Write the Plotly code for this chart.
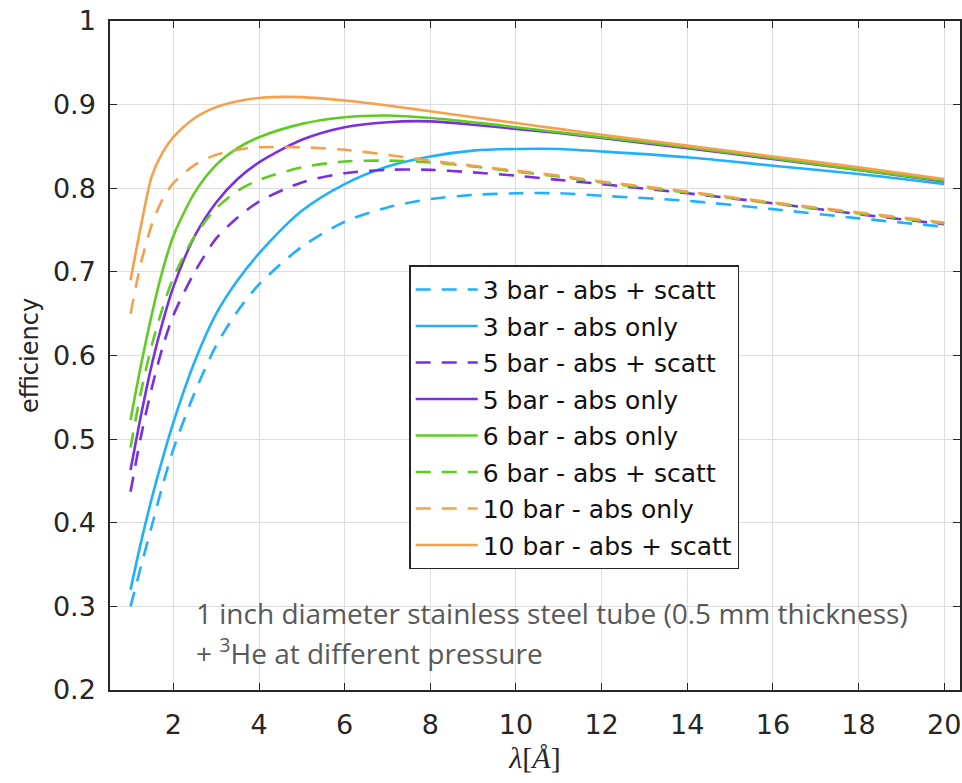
import plotly.graph_objects as go

wavelength = [1, 1.25, 1.5, 1.75, 2, 2.5, 3, 3.5, 4, 5, 6, 7, 8, 9, 10, 11, 12, 14, 16, 18, 20]

bar3_abs_scatt = [0.30, 0.349, 0.397, 0.445, 0.488, 0.556, 0.612, 0.653, 0.685, 0.730, 0.760, 0.777,
                  0.787, 0.792, 0.794, 0.794, 0.791, 0.785, 0.775, 0.764, 0.754]
bar3_abs_only = [0.32, 0.378, 0.43, 0.477, 0.52, 0.593, 0.65, 0.69, 0.722, 0.773, 0.805, 0.826,
                 0.838, 0.845, 0.847, 0.847, 0.844, 0.837, 0.827, 0.817, 0.805]
bar5_abs_scatt = [0.437, 0.505, 0.562, 0.61, 0.648, 0.70, 0.74, 0.765, 0.784, 0.807, 0.818, 0.822,
                  0.822, 0.819, 0.815, 0.810, 0.805, 0.794, 0.782, 0.769, 0.757]
bar5_abs_only = [0.463, 0.53, 0.59, 0.64, 0.682, 0.743, 0.783, 0.811, 0.831, 0.858, 0.873, 0.879,
                 0.880, 0.876, 0.871, 0.866, 0.860, 0.848, 0.835, 0.822, 0.808]
bar6_abs_only = [0.523, 0.59, 0.65, 0.702, 0.743, 0.795, 0.828, 0.848, 0.861, 0.877, 0.885, 0.887,
                 0.884, 0.879, 0.873, 0.867, 0.861, 0.849, 0.836, 0.822, 0.809]
bar6_abs_scatt = [0.49, 0.558, 0.613, 0.657, 0.693, 0.743, 0.776, 0.797, 0.810, 0.825, 0.832, 0.833,
                  0.831, 0.826, 0.820, 0.814, 0.807, 0.795, 0.782, 0.770, 0.758]
bar10_abs_only = [0.65, 0.712, 0.757, 0.787, 0.806, 0.828, 0.840, 0.846, 0.849, 0.849, 0.846, 0.840,
                  0.833, 0.827, 0.821, 0.815, 0.808, 0.796, 0.783, 0.771, 0.759]
bar10_abs_scatt = [0.69, 0.757, 0.815, 0.843, 0.861, 0.884, 0.897, 0.904, 0.908, 0.909, 0.905, 0.899,
                   0.892, 0.885, 0.878, 0.871, 0.864, 0.851, 0.838, 0.825, 0.811]

series_names = ["3 bar - abs + scatt", "3 bar - abs only", "5 bar - abs + scatt", "5 bar - abs only",
                "6 bar - abs only", "6 bar - abs + scatt", "10 bar - abs only", "10 bar - abs + scatt"]
series_values = [bar3_abs_scatt, bar3_abs_only, bar5_abs_scatt, bar5_abs_only,
                 bar6_abs_only, bar6_abs_scatt, bar10_abs_only, bar10_abs_scatt]
series_colors = ["#1fb0ff", "#1fb0ff", "#7a2fe0", "#7a2fe0",
                 "#5fcc22", "#5fcc22", "#f7a04c", "#f7a04c"]
series_dash = ["15px,11px", "solid", "15px,11px", "solid",
               "solid", "15px,11px", "15px,11px", "solid"]

x_ticks = [2, 4, 6, 8, 10, 12, 14, 16, 18, 20]
y_ticks = [0.2, 0.3, 0.4, 0.5, 0.6, 0.7, 0.8, 0.9, 1]
y_tick_text = ["0.2", "0.3", "0.4", "0.5", "0.6", "0.7", "0.8", "0.9", "1"]

note_line1 = "1 inch diameter stainless steel tube (0.5 mm thickness)"
note_line2 = "+ <sup>3</sup>He at different pressure"

fig = go.Figure()
for name, vals, col, dash in zip(series_names, series_values, series_colors, series_dash):
    fig.add_trace(go.Scatter(
        x=wavelength, y=vals, mode="lines", name=name, legendgroup=name,
        line=dict(color=col, width=2.6, dash=dash, shape="spline", smoothing=0.8),
    ))

axis_col = "#262626"
sans = "DejaVu Sans, Liberation Sans, sans-serif"
fig.update_layout(
    width=962, height=783,
    margin=dict(l=110, r=2, t=21, b=93),
    paper_bgcolor="white", plot_bgcolor="white",
    font=dict(family=sans, size=25, color=axis_col),
    showlegend=True,
    legend=dict(
        x=0.352, y=0.635, xanchor="left", yanchor="top",
        bgcolor="white", bordercolor=axis_col, borderwidth=1.5,
        font=dict(family=sans, size=25, color="#111111"),
        itemwidth=62, tracegroupgap=1,
    ),
    xaxis=dict(
        range=[0.52, 20.37], tickvals=x_ticks, ticks="inside", ticklen=7, tickwidth=1,
        tickcolor=axis_col, showline=True, linecolor=axis_col, linewidth=1.5, mirror="ticks",
        showgrid=True, gridcolor="#dedede", gridwidth=1, zeroline=False, automargin=False,
        ticklabelstandoff=10,
        tickfont=dict(family=sans, size=27, color=axis_col),
        title=dict(text="<i>λ</i>[<i>Å</i>]", font=dict(family="Liberation Serif, serif", size=30, color=axis_col),
                   standoff=8),
    ),
    yaxis=dict(
        range=[0.2, 1], tickvals=y_ticks, ticktext=y_tick_text, ticks="inside", ticklen=7, tickwidth=1,
        tickcolor=axis_col, showline=True, linecolor=axis_col, linewidth=1.5, mirror="ticks",
        showgrid=True, gridcolor="#dedede", gridwidth=1, zeroline=False, automargin=False,
        ticklabelstandoff=7,
        tickfont=dict(family=sans, size=27, color=axis_col),
        title=dict(text="efficiency", font=dict(family=sans, size=24, color=axis_col), standoff=7),
    ),
)

fig.add_shape(type="rect", xref="paper", yref="paper", x0=0.082, x1=0.985, y0=0.0, y1=0.157,
              fillcolor="white", line=dict(width=0), layer="between")
for txt, ypos in [(note_line1, 0.115), (note_line2, 0.057)]:
    fig.add_annotation(
        xref="paper", yref="paper", x=0.099, y=ypos, xanchor="left", yanchor="middle", align="left",
        showarrow=False, text=txt,
        font=dict(family="Open Sans, sans-serif", size=28, color="#595959"),
    )

fig.write_html("out.html", config={"displayModeBar": False},
               post_script="document.body.style.margin='0';")
